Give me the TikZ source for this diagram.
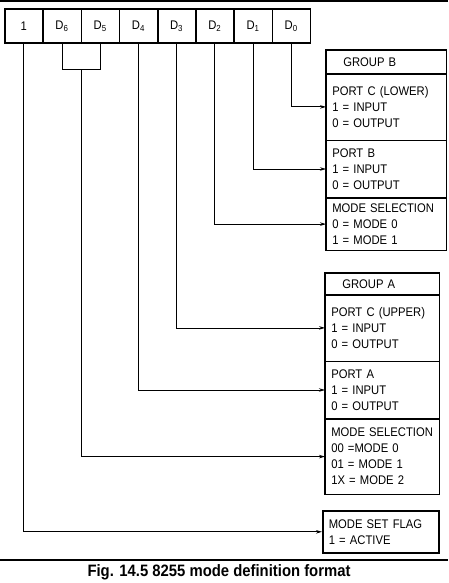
\documentclass[tikz,border=0pt]{standalone}
\usepackage{fontspec}
\setmainfont{Liberation Sans}[FakeStretch=0.9]
\usetikzlibrary{positioning,arrows.meta,calc}

\begin{document}
\begin{tikzpicture}[x=1pt, y=-1pt,
    font=\fontsize{12.5}{16}\selectfont,
    bit/.style={rectangle, draw, line width=0.6pt, minimum width=37.6pt, minimum height=34pt, inner sep=0pt},
    field/.style={rectangle, draw, line width=0.6pt, align=left, anchor=north west, inner xsep=6pt, inner ysep=0pt},
    wire/.style={line width=0.8pt},
    feed/.style={wire, -{Stealth[length=6pt,width=3.5pt]}},
    frame/.style={line width=1.6pt}]
    \useasboundingbox (0,0) rectangle (448,583);

    % page rules
    \draw[line width=1.2pt] (0,1) -- (448,1);
    \draw[line width=1.2pt] (0,560) -- (448,560);

    % control word
    \node[bit] (b7) at (23.8,26) {1};
    \node[bit, right=0pt of b7] (b6) {D\textsubscript{6}};
    \node[bit, right=0pt of b6] (b5) {D\textsubscript{5}};
    \node[bit, right=0pt of b5] (b4) {D\textsubscript{4}};
    \node[bit, right=0pt of b4] (b3) {D\textsubscript{3}};
    \node[bit, right=0pt of b3] (b2) {D\textsubscript{2}};
    \node[bit, right=0pt of b2] (b1) {D\textsubscript{1}};
    \node[bit, right=0pt of b1] (b0) {D\textsubscript{0}};
    \draw[frame] (b7.north west) rectangle (b0.south east);

    % group B
    \node[field, text width=108pt, minimum height=23pt] (hdrB) at (326,50) {\hspace*{11pt}GROUP~B};
    \node[field, text width=108pt, minimum height=66pt, below=0pt of hdrB] (pcB) {PORT~C~(LOWER)\\1 = INPUT\\0 = OUTPUT};
    \node[field, text width=108pt, minimum height=57pt, below=0pt of pcB] (pbB) {PORT~B\\1 = INPUT\\0 = OUTPUT};
    \node[field, text width=108pt, minimum height=52pt, below=0pt of pbB] (msB) {MODE~SELECTION\\0 = MODE 0\\1 = MODE 1};
    \draw[frame] (hdrB.north west) rectangle (msB.south east);

    % group A
    \node[field, text width=102pt, minimum height=21pt] (hdrA) at (325,273) {\hspace*{11pt}GROUP~A};
    \node[field, text width=102pt, minimum height=66pt, below=0pt of hdrA] (pcA) {PORT~C~(UPPER)\\1 = INPUT\\0 = OUTPUT};
    \node[field, text width=102pt, minimum height=57pt, below=0pt of pcA] (paA) {PORT~A\\1 = INPUT\\0 = OUTPUT};
    \node[field, text width=102pt, minimum height=75pt, below=0pt of paA] (msA) {MODE~SELECTION\\00 =MODE 0\\01 = MODE 1\\1X = MODE 2};
    \draw[frame] (hdrA.north west) rectangle (msA.south east);

    % mode set flag
    \node[field, frame, text width=104pt, minimum height=42pt] (flag) at (322,510) {MODE~SET~FLAG\\1 = ACTIVE};

    % connections
    \draw[feed] (b0.south) |- (pcB.west);
    \draw[feed] (b1.south) |- (pbB.west);
    \draw[feed] (b2.south) |- (msB.west);
    \draw[feed] (b3.south) |- (pcA.west);
    \draw[feed] (b4.south) |- (paA.west);
    \draw[wire] (b6.south) -- ++(0,26) -| (b5.south);
    \coordinate (join) at ($(b6.south)!0.5!(b5.south)+(0,26)$);
    \draw[feed] (join) |- (msA.west);
    \draw[feed] (b7.south) |- (flag.west);

    \node[font=\bfseries\fontsize{16.5}{19}\selectfont] (caption) at (219,572) {Fig. 14.5 8255 mode definition format};
\end{tikzpicture}
\end{document}
